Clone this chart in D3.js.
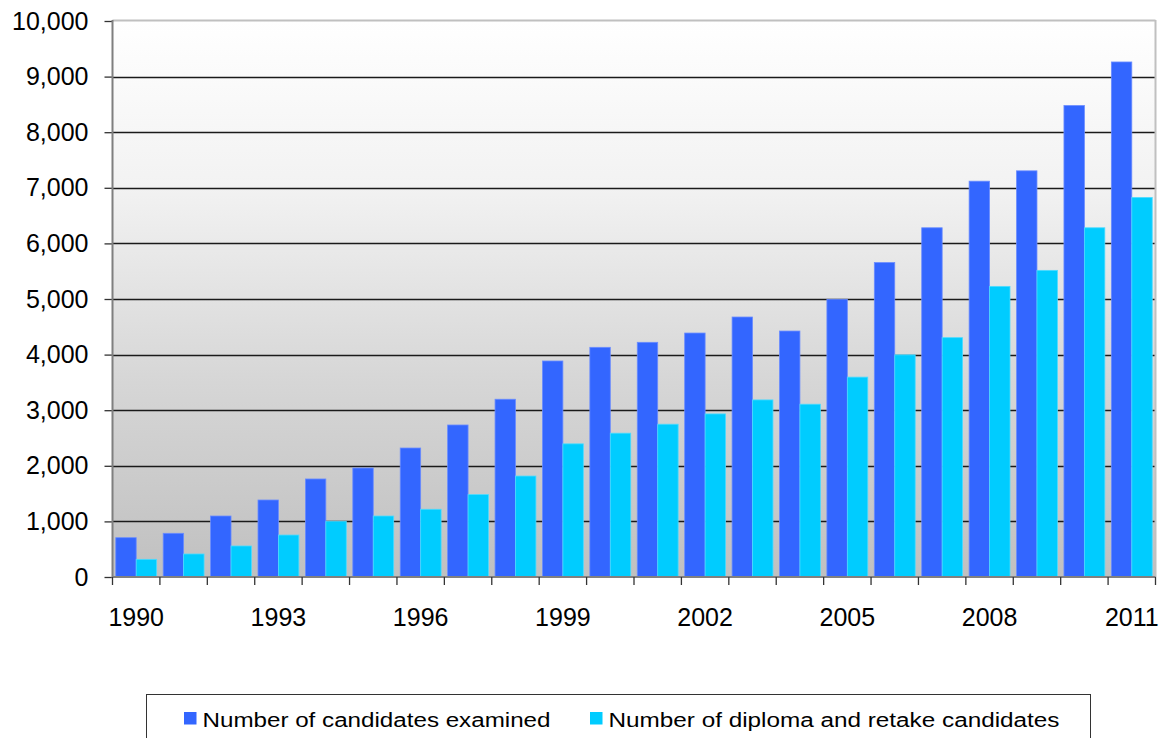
<!DOCTYPE html>
<html>
<head>
<meta charset="utf-8">
<script src="https://cdn.jsdelivr.net/npm/d3@7"></script>
<style>
  html, body { margin: 0; padding: 0; background: #fff; }
  svg { display: block; font-family: "Liberation Sans", Arial, sans-serif; }
</style>
</head>
<body>
<div id="chart"></div>
<script>
var years = [1990, 1991, 1992, 1993, 1994, 1995, 1996, 1997, 1998, 1999, 2000,
             2001, 2002, 2003, 2004, 2005, 2006, 2007, 2008, 2009, 2010, 2011];
var examined = [707, 786, 1097, 1385, 1763, 1960, 2320, 2734, 3197, 3885, 4131,
                4221, 4388, 4676, 4424, 4994, 5655, 6281, 7119, 7305, 8479, 9263];
var diploma = [318, 414, 558, 755, 1002, 1097, 1218, 1482, 1816, 2395, 2587,
               2748, 2933, 3185, 3108, 3595, 3995, 4305, 5227, 5515, 6281, 6826];
var yTicks = [0, 1000, 2000, 3000, 4000, 5000, 6000, 7000, 8000, 9000, 10000];
var xLabelYears = [1990, 1993, 1996, 1999, 2002, 2005, 2008, 2011];
var seriesNames = ["Number of candidates examined", "Number of diploma and retake candidates"];
var seriesColors = ["#3366ff", "#00ccff"];

var W = 1165, H = 738;
var margin = { top: 21, right: 9.5, bottom: 161, left: 112.5 },
    width = W - margin.left - margin.right,
    height = H - margin.top - margin.bottom;

var rows = years.map(function (y, i) {
  return { year: y, values: [examined[i], diploma[i]] };
});

var svg = d3.select("#chart").append("svg")
  .attr("width", W).attr("height", H);

var defs = svg.append("defs");
var grad = defs.append("linearGradient")
  .attr("id", "bg").attr("x1", 0).attr("y1", 0).attr("x2", 0).attr("y2", 1);
grad.append("stop").attr("offset", "0").attr("stop-color", "#ffffff");
grad.append("stop").attr("offset", "0.3").attr("stop-color", "#f2f2f2");
grad.append("stop").attr("offset", "0.65").attr("stop-color", "#d6d6d6");
grad.append("stop").attr("offset", "1").attr("stop-color", "#c0c0c0");

var g = svg.append("g")
  .attr("transform", "translate(" + margin.left + "," + margin.top + ")");

var x0 = d3.scaleBand().domain(years).range([0, width]).padding(0);
var x1 = d3.scaleBand().domain([0, 1]).range([0, x0.bandwidth()])
  .paddingInner(0).paddingOuter(0.16);
var y = d3.scaleLinear().domain([0, 10000]).range([height, 0]);

// plot background
g.append("rect")
  .attr("width", width).attr("height", height)
  .attr("fill", "url(#bg)");

// gridlines
g.append("g").selectAll("line")
  .data(yTicks.filter(function (d) { return d > 0 && d < 10000; }))
  .enter().append("line")
  .attr("x1", 0).attr("x2", width)
  .attr("y1", function (d) { return Math.round(y(d)) + 0.5; })
  .attr("y2", function (d) { return Math.round(y(d)) + 0.5; })
  .attr("stroke", "#1a1a1a").attr("stroke-width", 1.4);

// bars
var groups = g.append("g").selectAll("g")
  .data(rows).enter().append("g")
  .attr("transform", function (d) { return "translate(" + x0(d.year) + ",0)"; });

groups.selectAll("rect")
  .data(function (d) { return d.values.map(function (v, i) { return { i: i, v: v }; }); })
  .enter().append("rect")
  .attr("x", function (d) { return x1(d.i); })
  .attr("y", function (d) { return y(d.v); })
  .attr("width", x1.bandwidth())
  .attr("height", function (d) { return height - y(d.v); })
  .attr("fill", function (d) { return seriesColors[d.i]; })
  .attr("stroke", function (d) { return d.i === 0 ? "#6a8cff" : "#4ddbff"; })
  .attr("stroke-width", 0.8);

// frame: top and right border
g.append("line").attr("x1", 0).attr("x2", width).attr("y1", -0.5).attr("y2", -0.5)
  .attr("stroke", "#c0c0c0").attr("stroke-width", 2);
g.append("line").attr("x1", width).attr("x2", width).attr("y1", -1).attr("y2", height)
  .attr("stroke", "#c0c0c0").attr("stroke-width", 2);

// y axis
var yAxis = d3.axisLeft(y).tickValues(yTicks).tickFormat(d3.format(","))
  .tickSize(8).tickPadding(16);
var yg = g.append("g").attr("class", "y-axis").call(yAxis);
yg.select(".domain").remove();
yg.selectAll(".tick line").attr("stroke", "#333").attr("stroke-width", 1.3);
yg.selectAll("text").attr("font-size", "25px").attr("fill", "#000")
  .attr("font-family", "'Liberation Sans', Arial, sans-serif");
g.append("line").attr("x1", 0).attr("x2", 0).attr("y1", -1).attr("y2", height + 1)
  .attr("stroke", "#7f7f7f").attr("stroke-width", 2);

// x axis
var xAxis = d3.axisBottom(x0).tickValues(xLabelYears).tickSize(0).tickPadding(31);
var xg = g.append("g").attr("class", "x-axis")
  .attr("transform", "translate(0," + height + ")").call(xAxis);
xg.select(".domain").remove();
xg.selectAll("text").attr("font-size", "25px").attr("fill", "#000")
  .attr("font-family", "'Liberation Sans', Arial, sans-serif");
g.append("line").attr("x1", 0).attr("x2", width).attr("y1", height).attr("y2", height)
  .attr("stroke", "#808080").attr("stroke-width", 2);
g.append("g").selectAll("line")
  .data(years.concat(["end"]))
  .enter().append("line")
  .attr("x1", function (d) { return d === "end" ? width : x0(d); })
  .attr("x2", function (d) { return d === "end" ? width : x0(d); })
  .attr("y1", height).attr("y2", height + 8)
  .attr("stroke", "#333").attr("stroke-width", 1.3);

// legend
var legend = svg.append("g");
legend.append("rect")
  .attr("x", 146.5).attr("y", 694.5).attr("width", 944).attr("height", 60)
  .attr("fill", "#fff").attr("stroke", "#333").attr("stroke-width", 1);

var legendX = [184, 590];
var legendTextW = [348, 451];
seriesNames.forEach(function (name, i) {
  legend.append("rect")
    .attr("x", legendX[i]).attr("y", 712).attr("width", 12.5).attr("height", 12.5)
    .attr("fill", seriesColors[i]);
  legend.append("text")
    .attr("x", legendX[i] + 18.5).attr("y", 726.5)
    .attr("font-size", "20px").attr("fill", "#000")
    .attr("textLength", legendTextW[i]).attr("lengthAdjust", "spacingAndGlyphs")
    .text(name);
});
</script>
</body>
</html>
